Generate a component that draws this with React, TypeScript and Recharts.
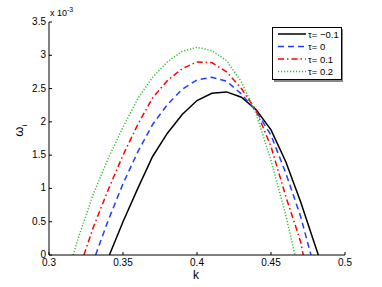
import { LineChart, Line, XAxis, YAxis, Legend } from "recharts";

// growth rate ω_i (x 10^-3) against k, one run per τ
const kBlack = [0.3408, 0.35, 0.36, 0.37, 0.38, 0.39, 0.4, 0.41, 0.42, 0.43, 0.44, 0.45, 0.46, 0.47, 0.48, 0.482];
const wBlack = [0, 0.5, 1.0, 1.48, 1.83, 2.11, 2.32, 2.43, 2.45, 2.37, 2.18, 1.88, 1.4, 0.8, 0.13, 0];

const kBlue = [0.3315, 0.34, 0.35, 0.36, 0.37, 0.38, 0.39, 0.4, 0.41, 0.42, 0.43, 0.44, 0.45, 0.46, 0.47, 0.477];
const wBlue = [0, 0.52, 1.07, 1.55, 1.96, 2.26, 2.49, 2.63, 2.67, 2.61, 2.42, 2.16, 1.8, 1.23, 0.58, 0];

const kRed = [0.3236, 0.33, 0.34, 0.35, 0.36, 0.37, 0.38, 0.39, 0.4, 0.41, 0.42, 0.43, 0.44, 0.45, 0.46, 0.47, 0.4718];
const wRed = [0, 0.42, 0.98, 1.5, 1.96, 2.36, 2.62, 2.8, 2.9, 2.89, 2.75, 2.5, 2.17, 1.63, 0.88, 0.2, 0];

const kGreen = [0.3164, 0.32, 0.33, 0.34, 0.35, 0.36, 0.37, 0.38, 0.39, 0.4, 0.41, 0.42, 0.43, 0.44, 0.45, 0.46, 0.4662];
const wGreen = [0, 0.27, 0.92, 1.45, 1.92, 2.35, 2.67, 2.9, 3.06, 3.12, 3.07, 2.92, 2.6, 2.12, 1.42, 0.6, 0];

const seriesNames = ["τ= −0.1", "τ= 0", "τ= 0.1", "τ= 0.2"];
const xTicks = [0.3, 0.35, 0.4, 0.45, 0.5];
const yTicks = [0, 0.5, 1, 1.5, 2, 2.5, 3, 3.5];

const zip = (ks: number[], ws: number[]) => ks.map((k, i) => ({ k, w: ws[i] }));

const FONT = "'Liberation Sans', Arial, sans-serif";

const styles = [
  { color: "#000000", dash: undefined as string | undefined },
  { color: "#1f3fff", dash: "6 4" },
  { color: "#ff0000", dash: "6 3 1.5 3" },
  { color: "#33bb33", dash: "1.2 1.8" },
];

const BottomTick = (p: any) => (
  <g>
    <line x1={p.x} y1={p.y} x2={p.x} y2={p.y - 3} stroke="#000" />
    <text x={p.x} y={p.y + 11} textAnchor="middle" fontSize={10} fontFamily={FONT} fill="#000">
      {p.payload.value}
    </text>
  </g>
);
const TopTick = (p: any) => <line x1={p.x} y1={p.y} x2={p.x} y2={p.y + 3} stroke="#000" />;
const LeftTick = (p: any) => (
  <g>
    <line x1={p.x} y1={p.y} x2={p.x + 3} y2={p.y} stroke="#000" />
    <text x={p.x - 3} y={p.y + 3} textAnchor="end" fontSize={10} fontFamily={FONT} fill="#000">
      {p.payload.value}
    </text>
  </g>
);
const RightTick = (p: any) => <line x1={p.x} y1={p.y} x2={p.x - 3} y2={p.y} stroke="#000" />;

const LegendBox = () => (
  <svg width={72} height={56} style={{ display: "block" }}>
    <rect x={2} y={2} width={69} height={53} fill="#888" />
    <rect x={0.5} y={0.5} width={69} height={52} fill="#fff" stroke="#000" />
    {seriesNames.map((n, i) => (
      <g key={n}>
        <line x1={6} x2={34} y1={7 + i * 12.5} y2={7 + i * 12.5} stroke={styles[i].color}
          strokeWidth={1.5} strokeDasharray={styles[i].dash} />
        <text x={36} y={10.5 + i * 12.5} fontSize={9.5} fontFamily={FONT} fill="#000">{n}</text>
      </g>
    ))}
  </svg>
);

export default function App() {
  const sets = [zip(kBlack, wBlack), zip(kBlue, wBlue), zip(kRed, wRed), zip(kGreen, wGreen)];
  return (
    <div style={{ position: "absolute", left: 0, top: 0, width: 382, height: 287, background: "#fff" }}>
      <LineChart width={382} height={287} margin={{ top: 22, right: 37, bottom: 0, left: 0 }}>
        <XAxis dataKey="k" type="number" domain={[0.3, 0.5]} ticks={xTicks} height={32}
          tickSize={0} tickMargin={0} tickLine={false} tick={BottomTick}
          axisLine={{ stroke: "#000" }} allowDataOverflow />
        <XAxis xAxisId="top" orientation="top" dataKey="k" type="number" domain={[0.3, 0.5]}
          ticks={xTicks} height={0} tickSize={0} tickMargin={0} tickLine={false} tick={TopTick}
          axisLine={{ stroke: "#000" }} />
        <YAxis type="number" domain={[0, 3.5]} ticks={yTicks} width={49}
          tickSize={0} tickMargin={0} tickLine={false} tick={LeftTick}
          axisLine={{ stroke: "#000" }} allowDataOverflow />
        <YAxis yAxisId="right" orientation="right" type="number" domain={[0, 3.5]} ticks={yTicks}
          width={0} tickSize={0} tickMargin={0} tickLine={false} tick={RightTick}
          axisLine={{ stroke: "#000" }} />
        <Legend layout="vertical" align="center" verticalAlign="middle" content={LegendBox}
          wrapperStyle={{ left: 272, top: 27, width: 72, height: 56 }} />
        {sets.map((d, i) => (
          <Line key={i} data={d} dataKey="w" name={seriesNames[i]} type="linear" dot={false}
            stroke={styles[i].color} strokeWidth={1.5} strokeDasharray={styles[i].dash}
            isAnimationActive={false} />
        ))}
      </LineChart>
      <div style={{ position: "absolute", left: 50, top: 6, fontFamily: FONT, fontSize: 9, whiteSpace: "nowrap" }}>
        x 10<sup style={{ fontSize: 7, verticalAlign: 4 }}>-3</sup>
      </div>
      <div style={{ position: "absolute", left: 14, top: 122, fontFamily: FONT, fontSize: 13,
        transform: "rotate(-90deg)", transformOrigin: "center", whiteSpace: "nowrap" }}>
        ω<sub style={{ fontSize: 8 }}>i</sub>
      </div>
      <div style={{ position: "absolute", left: 193, top: 268, fontFamily: FONT, fontSize: 12 }}>k</div>
    </div>
  );
}
